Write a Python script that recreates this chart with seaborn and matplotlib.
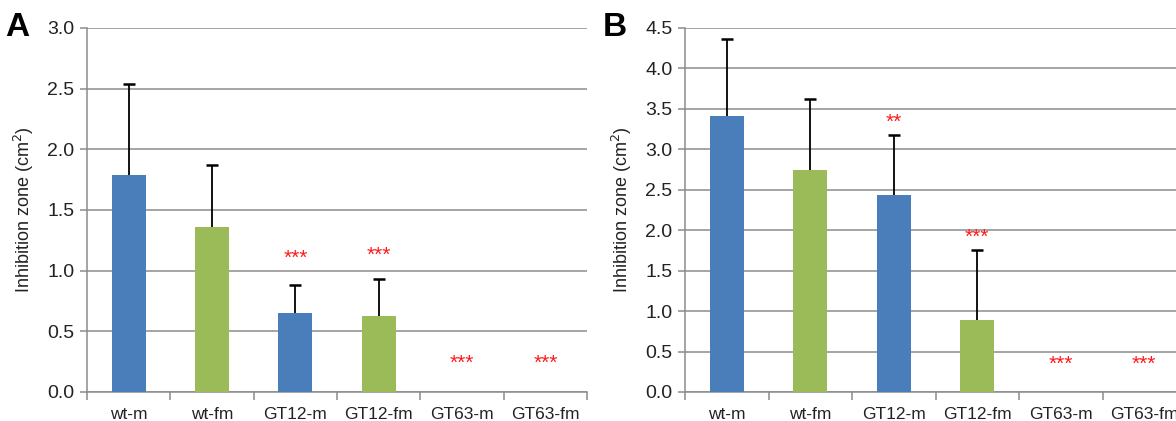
import matplotlib
matplotlib.use("Agg")
import matplotlib.pyplot as plt
import seaborn as sns
import pandas as pd
import numpy as np

categories = ["wt-m", "wt-fm", "GT12-m", "GT12-fm", "GT63-m", "GT63-fm"]
bar_colors = ["#4a7ebb", "#9bbb59", "#4a7ebb", "#9bbb59", "#4a7ebb", "#9bbb59"]

a_values = [1.79, 1.36, 0.65, 0.63, 0.0, 0.0]
a_errors = [0.75, 0.51, 0.23, 0.30, 0.0, 0.0]
a_stars = ["", "", "***", "***", "***", "***"]
a_star_y = [None, None, 1.02, 1.05, 0.16, 0.16]

b_values = [3.41, 2.75, 2.44, 0.89, 0.0, 0.0]
b_errors = [0.95, 0.87, 0.74, 0.86, 0.0, 0.0]
b_stars = ["", "", "**", "***", "***", "***"]
b_star_y = [None, None, 3.22, 1.80, 0.23, 0.23]

sns.set_theme(style="white")
plt.rcParams["font.family"] = ["Liberation Sans", "DejaVu Sans"]

fig = plt.figure(figsize=(11.76, 4.21), dpi=100)
axA = fig.add_axes([87/1176, 1-392/421, 500/1176, 364/421])
axB = fig.add_axes([685/1176, 1-392/421, 501/1176, 364/421])


def draw(ax, values, errors, stars, star_y, ymax, letter):
    df = pd.DataFrame({"cat": categories, "val": values})
    sns.barplot(data=df, x="cat", y="val", hue="cat", palette=bar_colors,
                legend=False, errorbar=None, width=0.41, ax=ax,
                saturation=1, zorder=3, edgecolor="none")
    x = np.arange(len(categories))
    for xi, v, e in zip(x, values, errors):
        if e > 0:
            cont = ax.errorbar(xi, v, yerr=[[0], [e]], fmt="none", ecolor="black",
                               elinewidth=1.3, capsize=4, capthick=1.8, zorder=2)
            caps = cont.lines[1]
            if len(caps) >= 2:
                caps[0].set_visible(False)
    for xi, s, sy in zip(x, stars, star_y):
        if s:
            ax.text(xi, sy, s, color="#ff1a1a", ha="center", va="bottom",
                    fontsize=15, fontweight="normal")
    ax.set_xlim(-0.5, 5.5)
    ax.set_ylim(0, ymax)
    ticks = np.arange(0, ymax + 0.01, 0.5)
    ax.set_yticks(ticks)
    ax.set_yticklabels([f"{t:.1f}" for t in ticks])
    ax.yaxis.grid(True, color="#8c8c8c", linewidth=1.1, zorder=0)
    ax.set_axisbelow(True)
    ax.set_xlabel("")
    ax.set_ylabel("Inhibition zone (cm$^{2}$)", fontsize=13, color="#222222",
                  labelpad=8)
    ax.tick_params(axis="y", left=True, length=5, width=1.1, color="#8c8c8c",
                   labelsize=14, pad=4, labelcolor="#222222", direction="out")
    ax.tick_params(axis="x", which="major", length=0, labelsize=12.5, pad=11,
                   labelcolor="#222222")
    ax.set_xticks(np.arange(-0.5, 6.0, 1.0), minor=True)
    ax.tick_params(axis="x", which="minor", length=6, width=1.1, color="#8c8c8c",
                   direction="out", bottom=True)
    for sp in ["top", "right"]:
        ax.spines[sp].set_visible(False)
    for sp in ["left", "bottom"]:
        ax.spines[sp].set_color("#8c8c8c")
        ax.spines[sp].set_linewidth(1.1)
    ax.text(-0.14, 1.0, letter, transform=ax.transAxes, fontsize=24,
            fontweight="bold", ha="center", va="center", color="black")


draw(axA, a_values, a_errors, a_stars, a_star_y, 3.0, "A")
draw(axB, b_values, b_errors, b_stars, b_star_y, 4.5, "B")

fig.savefig("out.png", dpi=100)
